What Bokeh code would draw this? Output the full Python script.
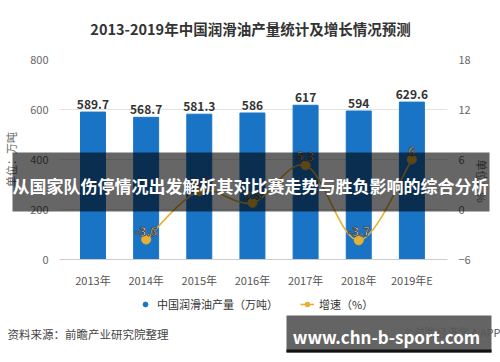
import math
from bokeh.plotting import figure
from bokeh.layouts import column
from bokeh.models import (Range1d, LinearAxis, FixedTicker, Label, BoxAnnotation,
                          ColumnDataSource, Legend, LegendItem)
from bokeh.embed import file_html
from bokeh.resources import INLINE
from bokeh.core.properties import value

title_text = "2013-2019年中国润滑油产量统计及增长情况预测"
years = ["2013年", "2014年", "2015年", "2016年", "2017年", "2018年", "2019年E"]
output = [589.7, 568.7, 581.3, 586, 617, 594, 629.6]
output_labels = ["589.7", "568.7", "581.3", "586", "617", "594", "629.6"]
growth = [float("nan"), -3.6, 2.2, 0.8, 5.3, -3.7, 6.0]
growth_labels = ["", "-3.6", "2.2", "0.8", "5.3", "-3.7", "6"]
left_ticks = [0, 200, 400, 600, 800]
right_ticks = [-6, 0, 6, 12, 18]
series_names = ["中国润滑油产量（万吨）", "增速（%）"]
left_unit = "单位：万吨"
right_unit = "单位：%"
source_note = "资料来源：前瞻产业研究院整理"
credit = "©前瞻经济学人APP"
banner_text = "从国家队伤停情况出发解析其对比赛走势与胜负影响的综合分析"
site_text = "www.chn-b-sport.com"

FONT = "Noto Sans CJK SC"
BLUE = "#1a74c6"
GOLD = "#e6b033"
W, H = 500, 362

xs = list(range(len(years)))
src = ColumnDataSource(dict(x=xs, out=output, olab=output_labels,
                            g=growth, glab=growth_labels))

# ---------------- main chart ----------------
p = figure(width=W, height=H, output_backend="svg", toolbar_location=None,
           x_range=Range1d(-0.63, 6.67), y_range=Range1d(0, 800),
           min_border_left=52, min_border_right=45, min_border_top=59,
           min_border_bottom=103, background_fill_color="white",
           border_fill_color="white", outline_line_color=None)
p.frame_align = False
p.extra_y_ranges = {"g": Range1d(-6, 18)}

p.xaxis.ticker = FixedTicker(ticks=xs)
p.xaxis.major_label_overrides = {i: y for i, y in enumerate(years)}
p.xaxis.axis_line_color = "#cccccc"
p.xaxis.major_tick_line_color = None
p.xaxis.minor_tick_line_color = None
p.xaxis.major_label_text_font = FONT
p.xaxis.major_label_text_font_size = "11px"
p.xaxis.major_label_text_color = "#555555"
p.xaxis.major_label_standoff = 6

p.yaxis.ticker = FixedTicker(ticks=left_ticks)
p.yaxis.axis_line_color = None
p.yaxis.major_tick_line_color = None
p.yaxis.minor_tick_line_color = None
p.yaxis.major_label_text_font = FONT
p.yaxis.major_label_text_font_size = "11px"
p.yaxis.major_label_text_color = "#666666"
p.yaxis.major_label_standoff = 5
p.yaxis.axis_label = left_unit
p.yaxis.axis_label_text_font = FONT
p.yaxis.axis_label_text_font_size = "11px"
p.yaxis.axis_label_text_font_style = "normal"
p.yaxis.axis_label_text_color = "#666666"
p.yaxis.axis_label_standoff = 8

ra = LinearAxis(y_range_name="g", ticker=FixedTicker(ticks=right_ticks))
ra.axis_line_color = None
ra.major_tick_line_color = None
ra.minor_tick_line_color = None
ra.major_label_text_font = FONT
ra.major_label_text_font_size = "11px"
ra.major_label_text_color = "#666666"
ra.major_label_standoff = 5
ra.axis_label = right_unit
ra.axis_label_orientation = -math.pi / 2
ra.axis_label_text_font = FONT
ra.axis_label_text_font_size = "11px"
ra.axis_label_text_font_style = "normal"
ra.axis_label_text_color = "#666666"
ra.axis_label_standoff = 8
p.add_layout(ra, "right")

p.xgrid.grid_line_color = None
p.ygrid.grid_line_color = "#e3e3e3"

p.vbar(x="x", top="out", width=0.47, source=src, color=BLUE)
p.text(x="x", y="out", text="olab", source=src, y_offset=-3,
       text_align="center", text_baseline="bottom",
       text_font=value(FONT), text_font_size="12px", text_font_style="bold",
       text_color="#333333")

# smooth growth line drawn as bezier segments through the data points
pts = [(i, g) for i, g in enumerate(growth) if not math.isnan(g)]
n = len(pts)
bz = dict(x0=[], y0=[], x1=[], y1=[], cx0=[], cy0=[], cx1=[], cy1=[])
for k in range(n - 1):
    p0 = pts[k - 1] if k > 0 else pts[k]
    p1 = pts[k]
    p2 = pts[k + 1]
    p3 = pts[k + 2] if k + 2 < n else pts[k + 1]
    bz["x0"].append(p1[0]); bz["y0"].append(p1[1])
    bz["x1"].append(p2[0]); bz["y1"].append(p2[1])
    bz["cx0"].append(p1[0] + (p2[0] - p0[0]) / 6)
    bz["cy0"].append(p1[1] + (p2[1] - p0[1]) / 6)
    bz["cx1"].append(p2[0] - (p3[0] - p1[0]) / 6)
    bz["cy1"].append(p2[1] - (p3[1] - p1[1]) / 6)
p.bezier(source=ColumnDataSource(bz), x0="x0", y0="y0", x1="x1", y1="y1",
         cx0="cx0", cy0="cy0", cx1="cx1", cy1="cy1",
         y_range_name="g", line_color=GOLD, line_width=1.6)
p.scatter(x="x", y="g", source=src, y_range_name="g", size=9,
          fill_color=GOLD, line_color=GOLD)
p.text(x="x", y="g", text="glab", source=src, y_range_name="g", y_offset=-4,
       text_align="center", text_baseline="bottom",
       text_font=value(FONT), text_font_size="12px", text_font_style="bold",
       text_color="white", text_outline_color="#4a4a4a")

# ---------------- overlay (title, legend, notes, banners) ----------------
q = figure(width=W, height=H, output_backend="svg", toolbar_location=None,
           x_range=Range1d(0, W), y_range=Range1d(H, 0),
           x_axis_type=None, y_axis_type=None, title=None,
           min_border=0, background_fill_alpha=0, border_fill_alpha=0,
           outline_line_color=None)
q.frame_align = False
q.margin = (-H, 0, 0, 0)

q.add_layout(Label(x=250, y=28, text=title_text,
                   text_align="center", text_baseline="middle",
                   text_font=FONT, text_font_size="14.5px", text_font_style="bold",
                   text_color="#333333"))

nan = float("nan")
leg_bar = q.scatter(x=[nan], y=[nan], size=11, fill_color=BLUE, line_color=BLUE)
leg_line = q.line(x=[nan], y=[nan], line_color=GOLD, line_width=1.6)
leg_pt = q.scatter(x=[nan], y=[nan], size=7, fill_color=GOLD, line_color=GOLD)
legend = Legend(items=[LegendItem(label=series_names[0], renderers=[leg_bar]),
                       LegendItem(label=series_names[1], renderers=[leg_line, leg_pt])],
                orientation="horizontal", location=(138, 50),
                border_line_color=None, background_fill_alpha=0,
                label_text_font=FONT, label_text_font_size="11px",
                label_text_color="#333333", glyph_width=14, glyph_height=12,
                spacing=22, margin=0, padding=2)
q.add_layout(legend, "center")

q.add_layout(Label(x=7, y=333, text=source_note,
                   text_align="left", text_baseline="middle",
                   text_font=FONT, text_font_size="11.5px", text_color="#444444"))
q.add_layout(Label(x=500, y=331, text=credit,
                   text_align="right", text_baseline="middle",
                   text_font=FONT, text_font_size="11px", text_color="#555555"))

q.add_layout(BoxAnnotation(left=12, right=489, top=152, bottom=211,
                           fill_color="black", fill_alpha=0.6, line_color=None))
q.add_layout(Label(x=250, y=185, text=banner_text,
                   text_align="center", text_baseline="middle",
                   text_font=FONT, text_font_size="17px", text_font_style="bold",
                   text_color="white"))

q.add_layout(BoxAnnotation(left=286, right=491, top=315, bottom=352,
                           fill_color="#585858", fill_alpha=0.93, line_color=None))
q.add_layout(BoxAnnotation(left=286, right=491, top=349, bottom=352,
                           fill_color="#111111", fill_alpha=1, line_color=None))
q.add_layout(Label(x=386, y=336, text=site_text,
                   text_align="center", text_baseline="middle",
                   text_font=FONT, text_font_size="17px", text_font_style="bold",
                   text_color="white"))

layout = column(p, q, spacing=0)
open("out.html", "w").write(file_html(layout, INLINE))
